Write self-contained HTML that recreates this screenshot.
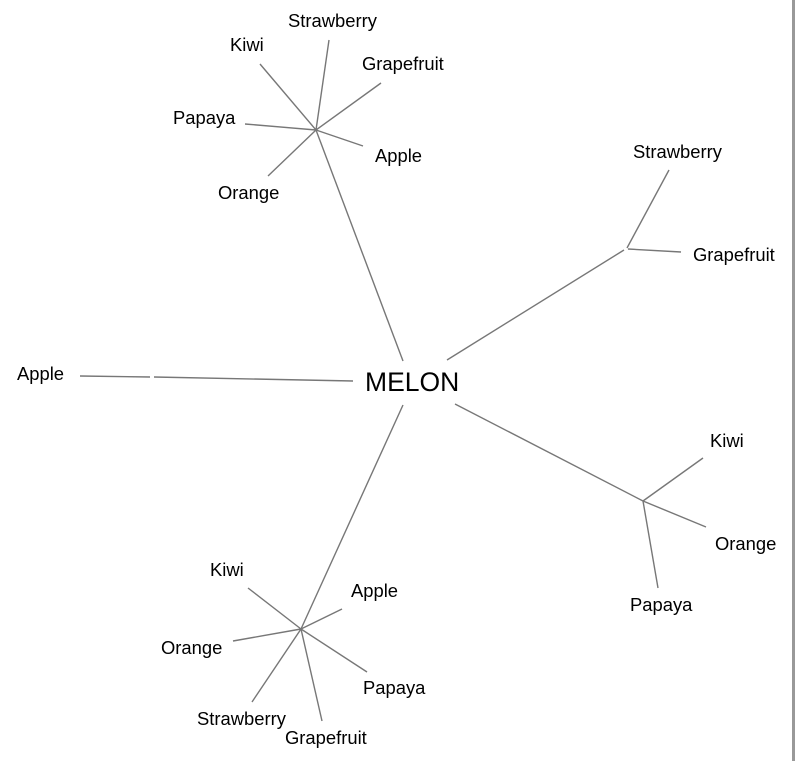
<!DOCTYPE html>
<html><head><meta charset="utf-8"><style>
html,body{margin:0;padding:0;background:#fff;width:795px;height:761px;overflow:hidden}
svg text{font-family:"Liberation Sans",Arial,sans-serif;font-size:18.4px;fill:#000}
</style></head><body>
<svg width="795" height="761" xmlns="http://www.w3.org/2000/svg">
<g stroke="#777" stroke-width="1.4" fill="none">
<line x1="316" y1="130" x2="329" y2="40"/>
<line x1="316" y1="130" x2="260" y2="64"/>
<line x1="316" y1="130" x2="381" y2="83"/>
<line x1="316" y1="130" x2="245" y2="124"/>
<line x1="316" y1="130" x2="363" y2="146"/>
<line x1="316" y1="130" x2="268" y2="176"/>
<line x1="316" y1="130" x2="403" y2="361"/>
<line x1="447" y1="360" x2="624" y2="250"/>
<line x1="627" y1="248" x2="669" y2="170"/>
<line x1="628" y1="249" x2="681" y2="252"/>
<line x1="455" y1="404" x2="643" y2="501"/>
<line x1="643" y1="501" x2="703" y2="458"/>
<line x1="643" y1="501" x2="706" y2="527"/>
<line x1="643" y1="501" x2="658" y2="588"/>
<line x1="403" y1="405" x2="301" y2="629"/>
<line x1="301" y1="629" x2="248" y2="588"/>
<line x1="301" y1="629" x2="342" y2="609"/>
<line x1="301" y1="629" x2="233" y2="641"/>
<line x1="301" y1="629" x2="367" y2="672"/>
<line x1="301" y1="629" x2="252" y2="702"/>
<line x1="301" y1="629" x2="322" y2="721"/>
<line x1="80" y1="376" x2="150" y2="377"/>
<line x1="154" y1="377" x2="353" y2="381"/>
</g>
<rect x="792" y="0" width="3" height="761" fill="#999"/>
<text x="288" y="27">Strawberry</text>
<text x="230" y="51">Kiwi</text>
<text x="362" y="70">Grapefruit</text>
<text x="173" y="124">Papaya</text>
<text x="375" y="162">Apple</text>
<text x="218" y="199">Orange</text>
<text x="633" y="158">Strawberry</text>
<text x="693" y="261">Grapefruit</text>
<text x="17" y="380">Apple</text>
<text x="365" y="391" style="font-size:26.5px">MELON</text>
<text x="710" y="447">Kiwi</text>
<text x="715" y="550">Orange</text>
<text x="630" y="611">Papaya</text>
<text x="210" y="576">Kiwi</text>
<text x="351" y="597">Apple</text>
<text x="161" y="654">Orange</text>
<text x="363" y="694">Papaya</text>
<text x="197" y="725">Strawberry</text>
<text x="285" y="744">Grapefruit</text>
</svg>
</body></html>
